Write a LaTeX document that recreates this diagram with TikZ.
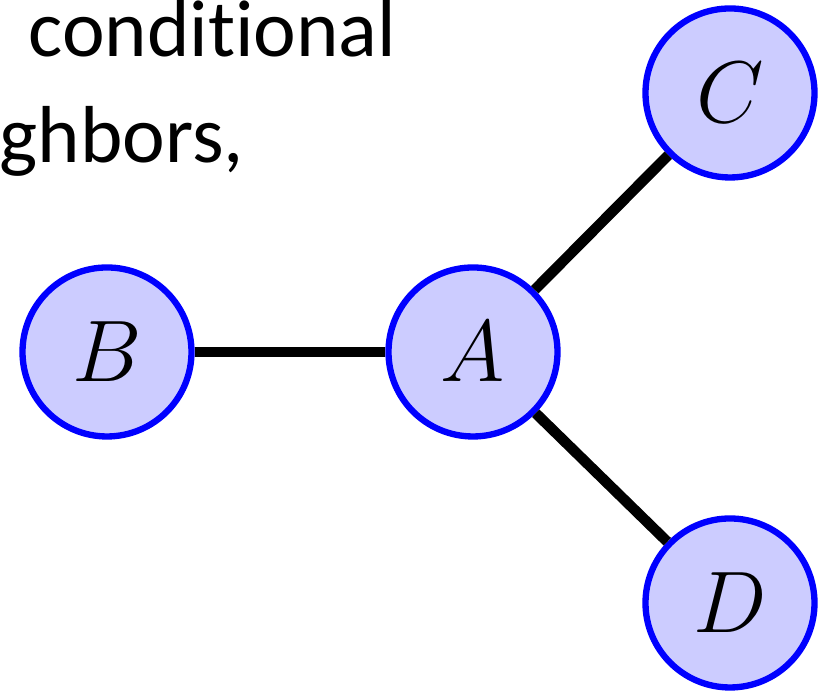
\documentclass[tikz,border=0pt]{standalone}
\usepackage{fontspec}
\setmainfont[Ligatures=NoCommon]{Carlito}
\usepackage{tikz}
\usetikzlibrary{positioning}
\tikzset{%
	var/.style      = {draw=blue, fill=blue!20, circle, line width=1.8pt, minimum size=1.69cm, inner sep=0pt, font=\fontsize{25}{30}\selectfont}, % Variable
	edge/.style     = {line width=3pt}, % Link
	slidetext/.style = {anchor=base west, inner sep=0pt, font=\fontsize{23}{27}\selectfont}, % Caption
}

\begin{document}
\begin{tikzpicture}
		\useasboundingbox (0,0) rectangle (8.28,6.97);
		\node[slidetext] (l1) at (0.28,6.40) {conditional};
		\node[slidetext] (l2) at (-0.01,5.34) {ghbors,};
		\node[var] (a) at (4.73,3.45) {$ A $};
		\node[var,left of=a,node distance = 3.66cm] (b) {$ B $};
		\node[var] (c) at (7.30,6.04) {$ C $};
		\node[var] (d) at (7.30,0.94) {$ D $};
		\draw[edge] (b) -- (a);
		\draw[edge] (a) -- (c);
		\draw[edge] (a) -- (d);
\end{tikzpicture}
\end{document}
